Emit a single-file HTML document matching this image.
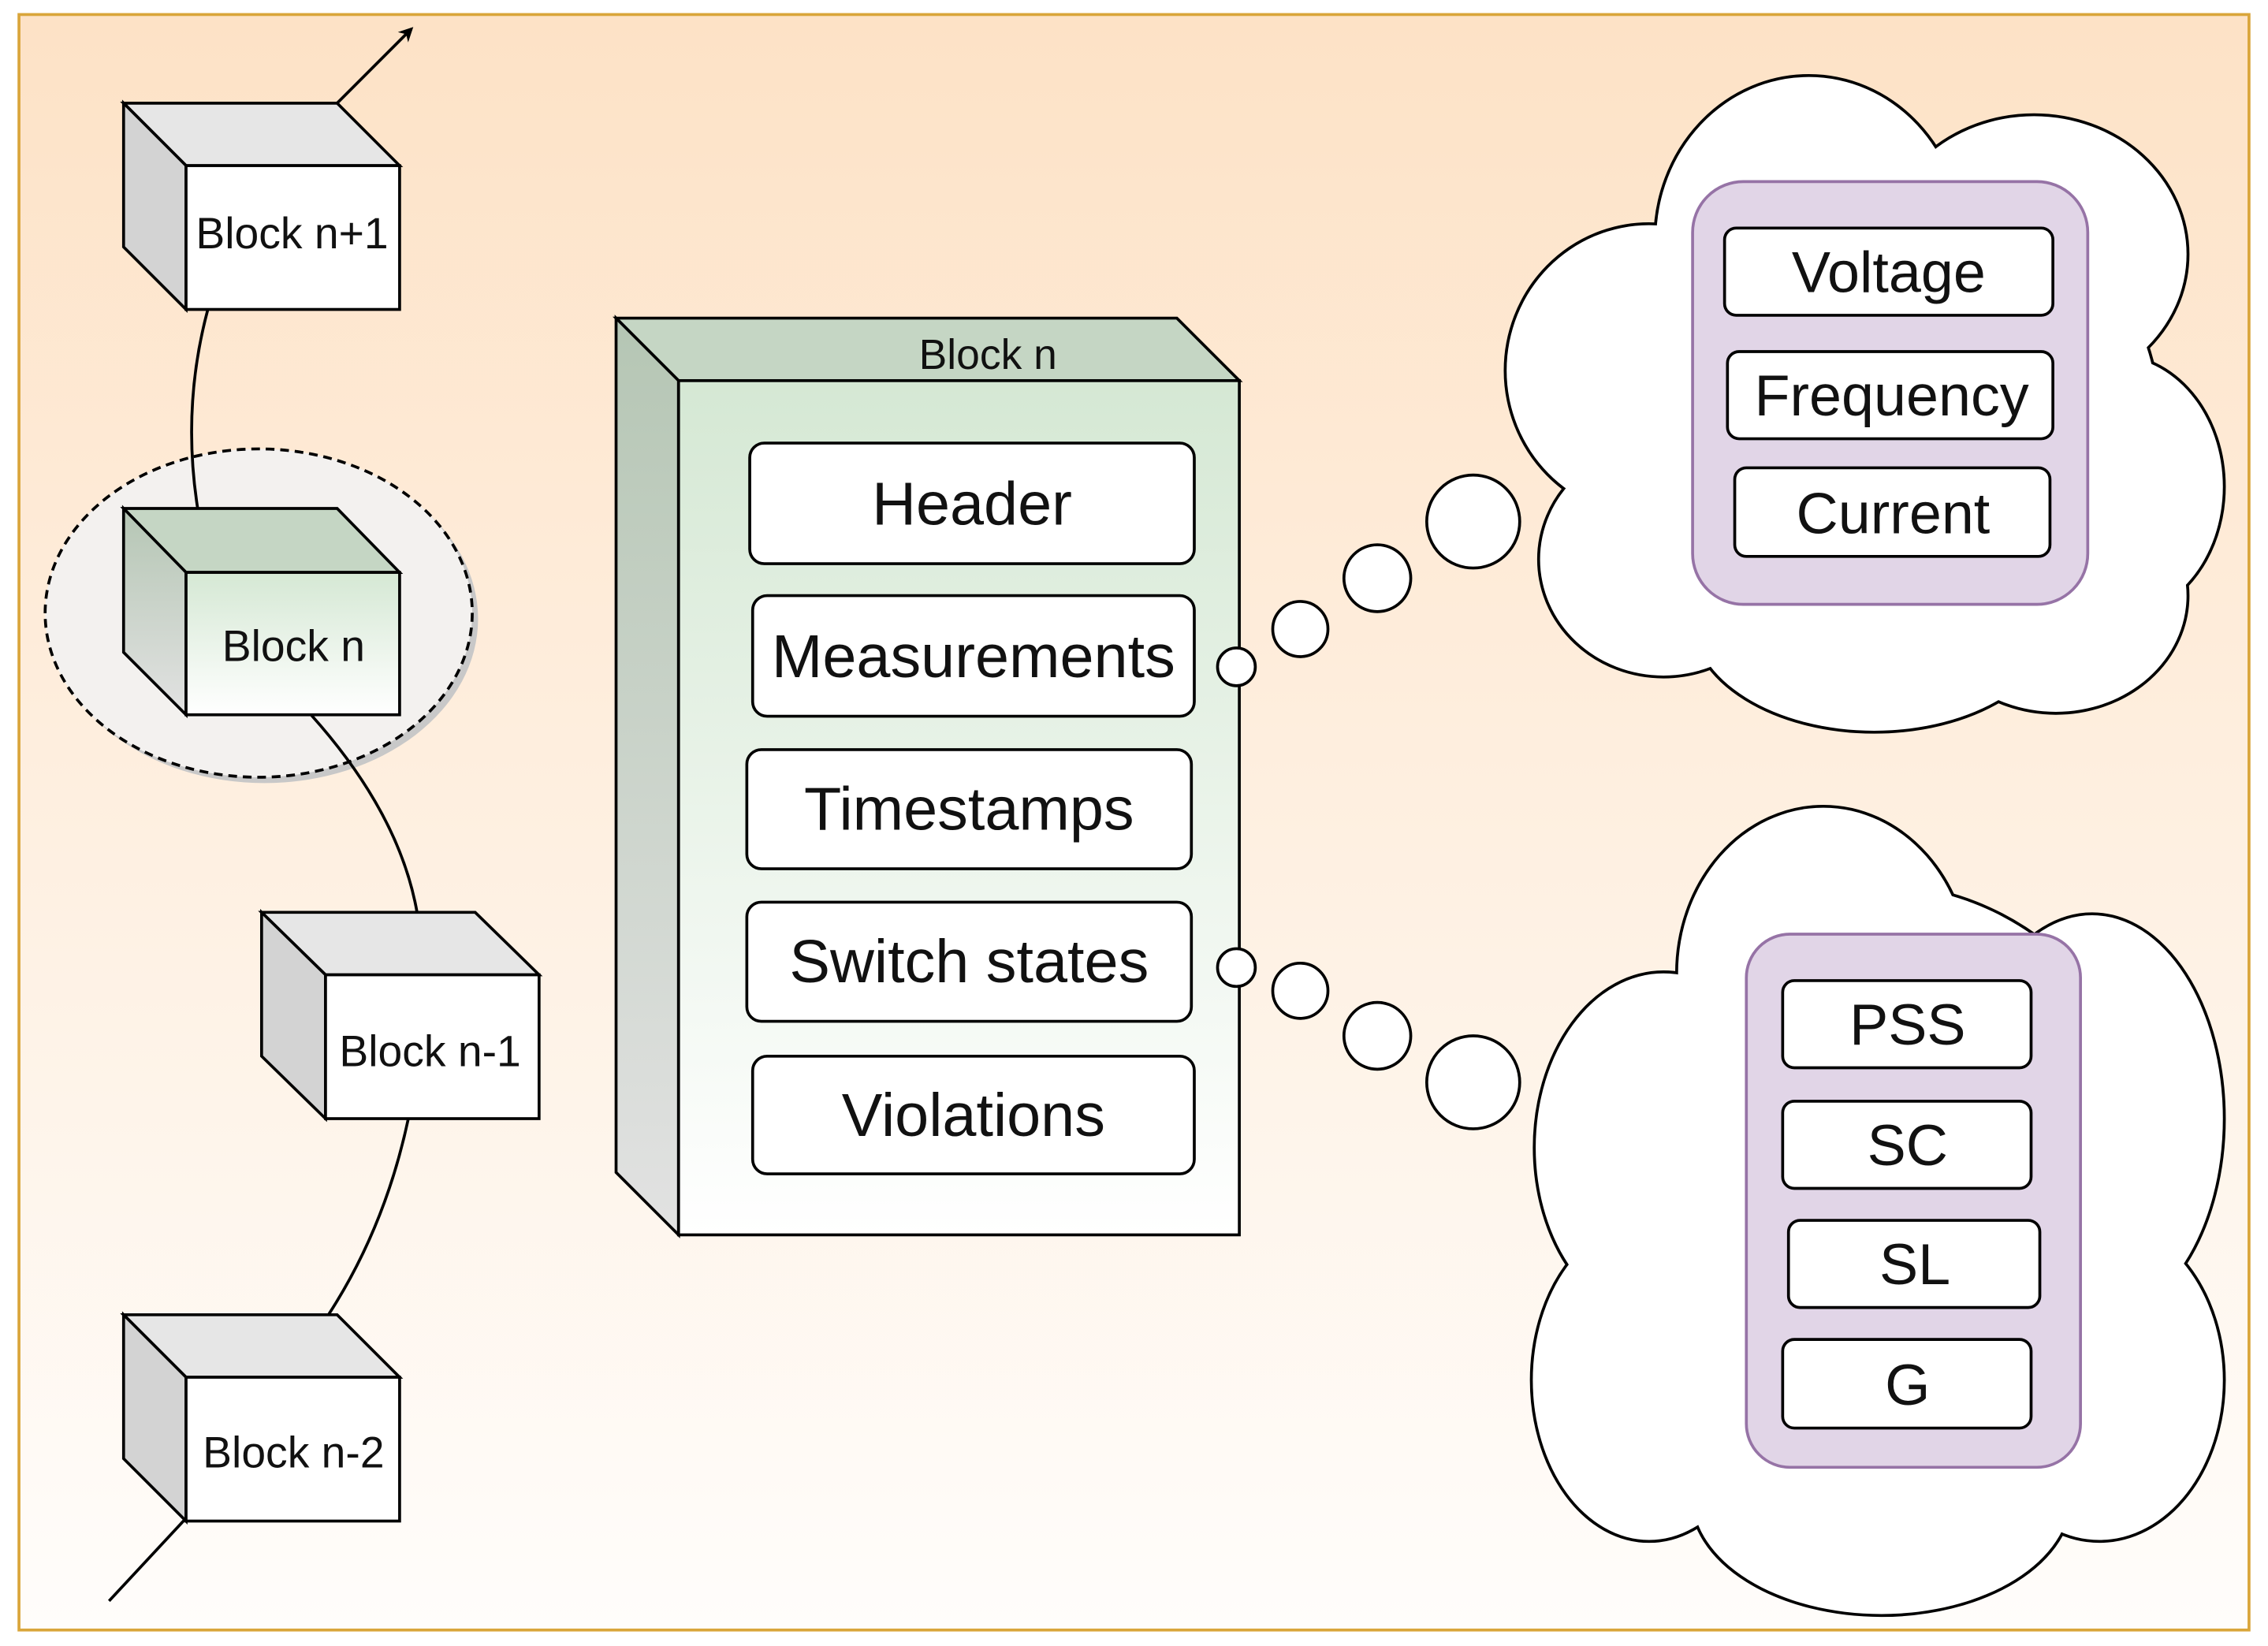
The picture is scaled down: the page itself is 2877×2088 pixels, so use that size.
<!DOCTYPE html>
<html><head><meta charset="utf-8"><style>
html,body{margin:0;padding:0;background:#fff;}
svg{display:block;}
text{font-family:"Liberation Sans",sans-serif;fill:#111;}
</style></head><body>
<svg width="2877" height="2088" viewBox="0 0 1561 1133" xmlns="http://www.w3.org/2000/svg">
<defs>
<linearGradient id="bg" x1="0" y1="0" x2="0" y2="1"><stop offset="0" stop-color="#fde2c6"/><stop offset="1" stop-color="#fffdfb"/></linearGradient>
<linearGradient id="grn" x1="0" y1="0" x2="0" y2="1"><stop offset="0" stop-color="#d5e8d4"/><stop offset="1" stop-color="#ffffff"/></linearGradient>
<linearGradient id="gside" x1="0" y1="0" x2="0" y2="1"><stop offset="0" stop-color="#b5c6b4"/><stop offset="1" stop-color="#e2e2e2"/></linearGradient>
<marker id="ar" markerWidth="10" markerHeight="10" refX="8" refY="5" orient="auto" markerUnits="userSpaceOnUse"><path d="M0,0 L10,5 L0,10 L3,5 Z" fill="#000"/></marker>
</defs>
<rect x="13" y="10" width="1535" height="1112" fill="url(#bg)" stroke="#d9a53a" stroke-width="2"/>

<!-- dashed ellipse -->
<ellipse cx="182" cy="426" rx="147" ry="113" fill="#c8c8c8"/>
<ellipse cx="178" cy="422" rx="147" ry="113" fill="#f3f1ef" stroke="#000" stroke-width="2" stroke-dasharray="6,4"/>

<!-- connectors -->
<g fill="none" stroke="#000" stroke-width="2">
<path d="M143,213 Q125,280 136,350"/>
<path d="M214,492 Q275,560 287,628"/>
<path d="M281,770 Q265,845 226,905"/>
<path d="M128,1045 L75,1102"/>
<path d="M232,71 L283,20" marker-end="url(#ar)"/>
</g>

<!-- small cubes -->
<g stroke="#000" stroke-width="2" stroke-linejoin="miter">
<polygon points="85,71 232,71 275,114 128,114" fill="#e6e6e6"/>
<polygon points="85,71 128,114 128,213 85,170" fill="#d3d3d3"/>
<rect x="128" y="114" width="147" height="99" fill="#fff"/>
<polygon points="85,350 232,350 275,394 128,394" fill="#c5d6c4"/>
<polygon points="85,350 128,394 128,492 85,449" fill="url(#gside)"/>
<rect x="128" y="394" width="147" height="98" fill="url(#grn)"/>
<polygon points="180,628 327,628 371,671 224,671" fill="#e6e6e6"/>
<polygon points="180,628 224,671 224,770 180,727" fill="#d3d3d3"/>
<rect x="224" y="671" width="147" height="99" fill="#fff"/>
<polygon points="85,905 232,905 275,948 128,948" fill="#e6e6e6"/>
<polygon points="85,905 128,948 128,1047 85,1004" fill="#d3d3d3"/>
<rect x="128" y="948" width="147" height="99" fill="#fff"/>
</g>
<g font-size="30">
<text x="201" y="171" text-anchor="middle">Block n+1</text>
<text x="202" y="455" text-anchor="middle">Block n</text>
<text x="296" y="734" text-anchor="middle">Block n-1</text>
<text x="202" y="1010" text-anchor="middle">Block n-2</text>
</g>

<!-- big block -->
<g stroke="#000" stroke-width="2">
<polygon points="424,219 810,219 853,262 467,262" fill="#c5d6c4"/>
<polygon points="424,219 467,262 467,850 424,807" fill="url(#gside)"/>
<rect x="467" y="262" width="386" height="588" fill="url(#grn)"/>
</g>
<text x="680" y="254" font-size="29" text-anchor="middle">Block n</text>
<g stroke="#000" stroke-width="2" fill="#fff">
<rect x="516" y="305" width="306" height="83" rx="10"/>
<rect x="518" y="410" width="304" height="83" rx="10"/>
<rect x="514" y="516" width="306" height="82" rx="10"/>
<rect x="514" y="621" width="306" height="82" rx="10"/>
<rect x="518" y="727" width="304" height="81" rx="10"/>
</g>
<g font-size="42" text-anchor="middle">
<text x="669" y="361">Header</text>
<text x="670" y="466">Measurements</text>
<text x="667" y="571">Timestamps</text>
<text x="667" y="676">Switch states</text>
<text x="670" y="782">Violations</text>
</g>

<!-- bubbles -->
<g fill="#fff" stroke="#000" stroke-width="2">
<circle cx="851" cy="459" r="13"/><circle cx="895" cy="433" r="19"/><circle cx="948" cy="398" r="23"/><circle cx="1014" cy="359" r="32"/>
<circle cx="851" cy="666" r="13"/><circle cx="895" cy="682" r="19"/><circle cx="948" cy="713" r="23"/><circle cx="1014" cy="745" r="32"/>
</g>

<!-- clouds -->
<g stroke="#000" stroke-width="4" fill="#fff">
<ellipse cx="1245" cy="165" rx="105" ry="112"/><ellipse cx="1400" cy="175" rx="105" ry="95"/>
<ellipse cx="1135" cy="255" rx="98" ry="100"/><ellipse cx="1455" cy="335" rx="75" ry="90"/>
<ellipse cx="1145" cy="385" rx="85" ry="80"/><ellipse cx="1290" cy="425" rx="125" ry="78"/>
<ellipse cx="1415" cy="410" rx="90" ry="80"/><ellipse cx="1285" cy="285" rx="200" ry="170"/>
<ellipse cx="1255" cy="670" rx="100" ry="114"/><ellipse cx="1145" cy="790" rx="88" ry="120"/>
<ellipse cx="1440" cy="770" rx="90" ry="140"/><ellipse cx="1135" cy="950" rx="80" ry="110"/>
<ellipse cx="1445" cy="950" rx="85" ry="110"/><ellipse cx="1295" cy="1030" rx="130" ry="81"/>
<ellipse cx="1295" cy="840" rx="200" ry="230"/>
</g>
<g fill="#fff">
<ellipse cx="1245" cy="165" rx="105" ry="112"/><ellipse cx="1400" cy="175" rx="105" ry="95"/>
<ellipse cx="1135" cy="255" rx="98" ry="100"/><ellipse cx="1455" cy="335" rx="75" ry="90"/>
<ellipse cx="1145" cy="385" rx="85" ry="80"/><ellipse cx="1290" cy="425" rx="125" ry="78"/>
<ellipse cx="1415" cy="410" rx="90" ry="80"/><ellipse cx="1285" cy="285" rx="200" ry="170"/>
<ellipse cx="1255" cy="670" rx="100" ry="114"/><ellipse cx="1145" cy="790" rx="88" ry="120"/>
<ellipse cx="1440" cy="770" rx="90" ry="140"/><ellipse cx="1135" cy="950" rx="80" ry="110"/>
<ellipse cx="1445" cy="950" rx="85" ry="110"/><ellipse cx="1295" cy="1030" rx="130" ry="81"/>
<ellipse cx="1295" cy="840" rx="200" ry="230"/>
</g>

<!-- purple containers -->
<g fill="#e1d5e7" stroke="#9673a6" stroke-width="2">
<rect x="1165" y="125" width="272" height="291" rx="35"/>
<rect x="1202" y="643" width="230" height="367" rx="30"/>
</g>
<g fill="#fff" stroke="#000" stroke-width="2">
<rect x="1187" y="157" width="226" height="60" rx="8"/>
<rect x="1189" y="242" width="224" height="60" rx="8"/>
<rect x="1194" y="322" width="217" height="61" rx="8"/>
<rect x="1227" y="675" width="171" height="60" rx="8"/>
<rect x="1227" y="758" width="171" height="60" rx="8"/>
<rect x="1231" y="840" width="173" height="60" rx="8"/>
<rect x="1227" y="922" width="171" height="61" rx="8"/>
</g>
<g font-size="40" text-anchor="middle">
<text x="1300" y="201">Voltage</text>
<text x="1302" y="286">Frequency</text>
<text x="1303" y="367">Current</text>
<text x="1313" y="719">PSS</text>
<text x="1313" y="802">SC</text>
<text x="1318" y="884">SL</text>
<text x="1313" y="967">G</text>
</g>
</svg>
</body></html>
